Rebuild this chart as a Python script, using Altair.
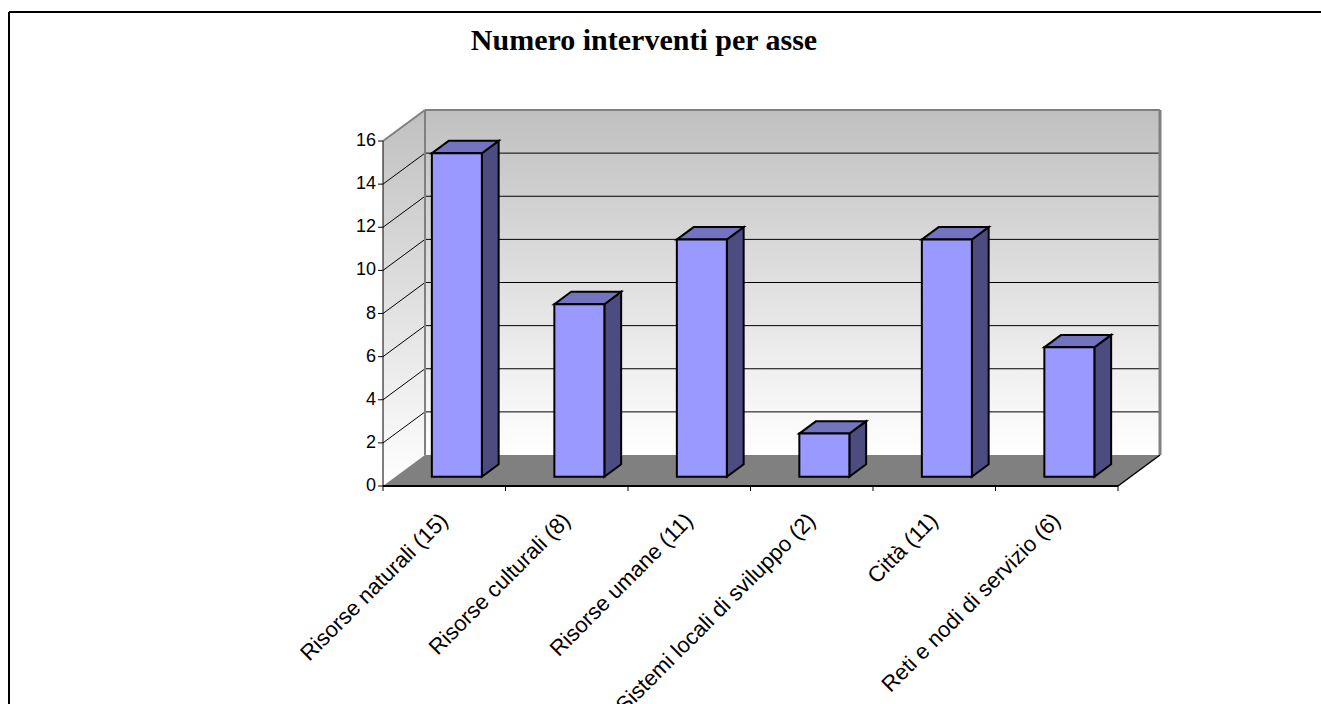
import altair as alt
import pandas as pd

# ---- chart data ----
categories = [
    "Risorse naturali (15)",
    "Risorse culturali (8)",
    "Risorse umane (11)",
    "Sistemi locali di sviluppo (2)",
    "Città (11)",
    "Reti e nodi di servizio (6)",
]
values = [15, 8, 11, 2, 11, 6]
y_ticks = [0, 2, 4, 6, 8, 10, 12, 14, 16]
title_text = "Numero interventi per asse"

# ---- layout (pixels) ----
W, H = 1321, 704
X0_PX, Y0_PX = 383, 486          # front-left corner of the floor (value 0)
CAT_PX = 122.5                   # width of one category slot
UNIT_PX = 21.5625                # pixels per unit of value
DEPTH_X_PX, DEPTH_Y_PX = 42, 31  # 3-D depth of walls / floor
BAR_W_PX = 50                    # width of a bar's front face
BAR_FRONT, BAR_BACK = 0.3, 0.7   # bar position inside the depth
TICK_PX = 5
LABEL_GAP_PX = 31

n = len(categories)
ymax = max(y_ticks)
ddx = DEPTH_X_PX / CAT_PX
ddy = DEPTH_Y_PX / UNIT_PX

xs = alt.Scale(domain=[-X0_PX / CAT_PX, (W - X0_PX) / CAT_PX], nice=False, zero=False)
ys = alt.Scale(domain=[-(H - Y0_PX) / UNIT_PX, Y0_PX / UNIT_PX], nice=False, zero=False)


def X(f):
    return alt.X(f, type="quantitative", scale=xs, axis=None)


def Y(f):
    return alt.Y(f, type="quantitative", scale=ys, axis=None)


wall_grad = alt.Gradient(
    gradient="linear",
    stops=[alt.GradientStop(color="#c0c0c0", offset=0),
           alt.GradientStop(color="#ffffff", offset=1)],
    x1=0, x2=0, y1=0, y2=1,
)

# ---- walls ----
back_wall = alt.Chart(pd.DataFrame({"x": [ddx], "x2": [n + ddx], "y": [ddy], "y2": [ymax + ddy]})).mark_rect(
    fill=wall_grad
).encode(x=X("x"), x2="x2", y=Y("y"), y2="y2")

left_wall = alt.Chart(pd.DataFrame({"x": [0, ddx], "y": [0, ddy], "y2": [ymax, ymax + ddy]})).mark_area(
    fill=wall_grad, orient="vertical"
).encode(x=X("x"), y=Y("y"), y2="y2")

wall_lines = []
for v in y_ticks[1:]:
    col = "#808080" if v == ymax else "#000000"
    w = 2 if v == ymax else 1
    wall_lines.append({"x": 0, "y": v, "x2": ddx, "y2": v + ddy, "c": col, "w": w})
for v in y_ticks[1:-1]:
    wall_lines.append({"x": ddx, "y": v + ddy, "x2": n + ddx, "y2": v + ddy, "c": "#000000", "w": 1})
wall_lines += [
    {"x": ddx, "y": ymax + ddy, "x2": n + ddx, "y2": ymax + ddy, "c": "#808080", "w": 2},
    {"x": n + ddx, "y": ddy, "x2": n + ddx, "y2": ymax + ddy, "c": "#808080", "w": 3},
    {"x": ddx, "y": ddy, "x2": ddx, "y2": ymax + ddy, "c": "#808080", "w": 2},
]
wall_rules = alt.Chart(pd.DataFrame(wall_lines)).mark_rule().encode(
    x=X("x"), x2="x2", y=Y("y"), y2="y2",
    color=alt.Color("c:N", scale=None),
    strokeWidth=alt.StrokeWidth("w:Q", scale=None),
)

# ---- floor ----
floor = alt.Chart(pd.DataFrame({"y": [0, ddy], "x": [0, ddx], "x2": [n, n + ddx]})).mark_area(
    fill="#808080", orient="horizontal"
).encode(y=Y("y"), x=X("x"), x2="x2")

axis_lines = [
    {"x": 0, "y": 0, "x2": n, "y2": 0, "w": 2},
    {"x": n, "y": 0, "x2": n + ddx, "y2": ddy, "w": 1.5},
    {"x": 0, "y": 0, "x2": 0, "y2": ymax, "w": 1},
]
for v in y_ticks:
    axis_lines.append({"x": -TICK_PX / CAT_PX, "y": v, "x2": 0, "y2": v, "w": 1})
for i in range(n + 1):
    axis_lines.append({"x": i, "y": 0, "x2": i, "y2": -TICK_PX / UNIT_PX, "w": 1})
axis_rules = alt.Chart(pd.DataFrame(axis_lines)).mark_rule(color="#000000").encode(
    x=X("x"), x2="x2", y=Y("y"), y2="y2",
    strokeWidth=alt.StrokeWidth("w:Q", scale=None),
)

y_labels = alt.Chart(pd.DataFrame({"v": y_ticks, "x": [0] * len(y_ticks)})).mark_text(
    align="right", baseline="middle", dx=-7, fontSize=18, font="Liberation Sans", color="#000000"
).encode(x=X("x"), y=Y("v"), text=alt.Text("v:Q"))

# ---- bars (front, side and top faces) ----
fx, fy = BAR_FRONT * ddx, BAR_FRONT * ddy
bx, by = BAR_BACK * ddx, BAR_BACK * ddy
hw = BAR_W_PX / 2 / CAT_PX

bars = pd.DataFrame({"idx": range(n), "cat": categories, "v": values})
bars["c"] = bars["idx"] + 0.5
bars["xl"] = bars["c"] - hw + fx
bars["xr"] = bars["c"] + hw + fx
bars["yb"] = fy
bars["yt"] = bars["v"] + fy

side_rows, top_rows = [], []
for _, r in bars.iterrows():
    side_rows.append({"idx": r.idx, "x": r.c + hw + fx, "y": fy, "y2": r.v + fy})
    side_rows.append({"idx": r.idx, "x": r.c + hw + bx, "y": by, "y2": r.v + by})
    top_rows.append({"idx": r.idx, "y": r.v + fy, "x": r.c - hw + fx, "x2": r.c + hw + fx})
    top_rows.append({"idx": r.idx, "y": r.v + by, "x": r.c - hw + bx, "x2": r.c + hw + bx})

bar_side = alt.Chart(pd.DataFrame(side_rows)).mark_area(
    orient="vertical", fill="#4c4c80", stroke="#000000", strokeWidth=2, strokeJoin="miter"
).encode(x=X("x"), y=Y("y"), y2="y2", detail="idx:N")

bar_top = alt.Chart(pd.DataFrame(top_rows)).mark_area(
    orient="horizontal", fill="#7373bf", stroke="#000000", strokeWidth=2, strokeJoin="miter"
).encode(y=Y("y"), x=X("x"), x2="x2", detail="idx:N")

bar_front = alt.Chart(bars).mark_rect(fill="#9999ff", stroke="#000000", strokeWidth=2).encode(
    x=X("xl"), x2="xr", y=Y("yb"), y2="yt"
)

# ---- category labels ----
cat_df = pd.DataFrame({"cat": categories, "x": [i + 0.5 for i in range(n)]})
cat_df["y"] = -LABEL_GAP_PX / UNIT_PX
cat_labels = alt.Chart(cat_df).mark_text(
    angle=315, align="right", baseline="middle", fontSize=22, font="Liberation Sans", color="#000000"
).encode(x=X("x"), y=Y("y"), text="cat:N")

# ---- title and outer frame ----
title = alt.Chart(pd.DataFrame({"t": [title_text]})).mark_text(
    font="Liberation Serif", fontSize=30, fontWeight="bold", baseline="alphabetic", align="center",
    color="#000000"
).encode(x=alt.value(644), y=alt.value(50), text="t:N")

one = pd.DataFrame({"k": [0]})
frame_v = alt.Chart(one).mark_rule(color="#000000", strokeWidth=2).encode(
    x=alt.value(9), y=alt.value(12), y2=alt.value(H)
)
frame_h = alt.Chart(one).mark_rule(color="#000000", strokeWidth=2).encode(
    x=alt.value(9), x2=alt.value(W), y=alt.value(12)
)

chart = alt.layer(
    back_wall, left_wall, wall_rules, floor, axis_rules, y_labels,
    bar_side, bar_top, bar_front, cat_labels, title, frame_v, frame_h,
).properties(
    width=W, height=H, padding=0, autosize=alt.AutoSizeParams(type="none"),
    background="#ffffff",
).configure_view(stroke=None)

chart.save("out.html", embed_options={"renderer": "svg", "actions": False})
